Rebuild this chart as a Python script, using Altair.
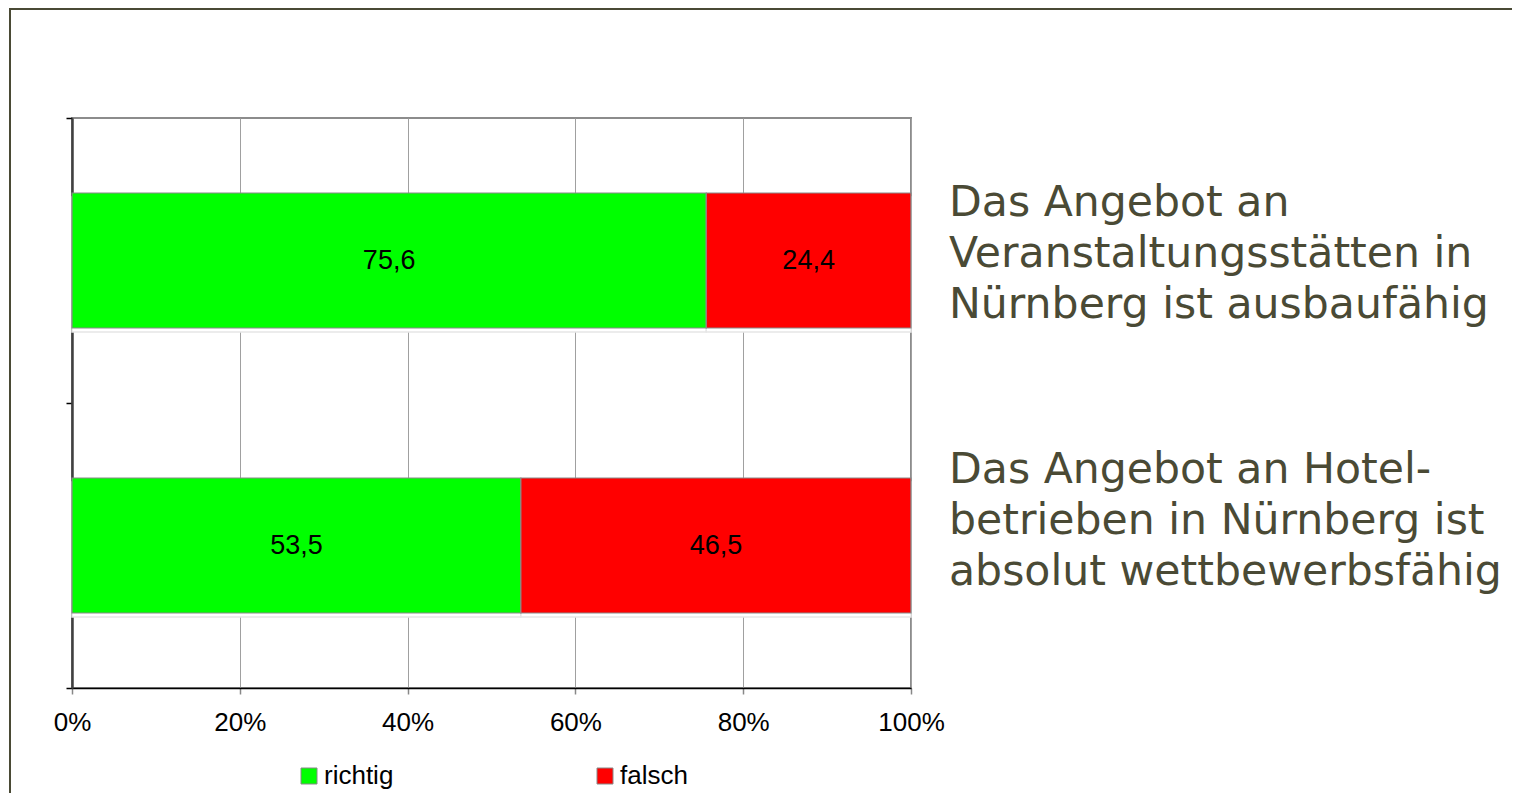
import altair as alt
import pandas as pd

# ---- data ----
stmt_keys = ["Veranstaltungsstätten", "Hotelbetriebe"]
stmt_labels = [
    "Das Angebot an\nVeranstaltungsstätten in\nNürnberg ist ausbaufähig",
    "Das Angebot an Hotel-\nbetrieben in Nürnberg ist\nabsolut wettbewerbsfähig",
]
answers = ["richtig", "falsch"]
richtig = [75.6, 53.5]
falsch = [24.4, 46.5]
x_ticks = [0, 20, 40, 60, 80, 100]

rows = []
for i, k in enumerate(stmt_keys):
    rows.append({"stmt": k, "answer": "richtig", "value": richtig[i], "order": 0})
    rows.append({"stmt": k, "answer": "falsch", "value": falsch[i], "order": 1})
df = pd.DataFrame(rows)
df_lab = pd.DataFrame({"stmt": stmt_keys, "label": stmt_labels})

TXT = "#4a4a35"

base = alt.Chart(df).transform_stack(
    stack="value", groupby=["stmt"], as_=["x0", "x1"],
    sort=[alt.SortField("order", order="ascending")],
)

yenc = alt.Y(
    "stmt:N", sort=stmt_keys,
    scale=alt.Scale(paddingInner=0, paddingOuter=0),
    axis=alt.Axis(title=None, labels=False, grid=False, tickBand="extent",
                  domainColor="#404040", domainWidth=2.5, tickColor="black",
                  tickSize=6, tickWidth=1.5),
)
xenc = alt.X(
    "x0:Q", scale=alt.Scale(domain=[0, 100], nice=False, zero=True),
    axis=alt.Axis(title=None, values=x_ticks, labelExpr="datum.value + '%'",
                  grid=True, gridColor="#a0a0a0", gridWidth=1,
                  domainColor="black", domainWidth=1.5, tickColor="#888888",
                  tickSize=6, tickWidth=1.5, labelFont="Liberation Sans",
                  labelFontSize=26, labelColor="black", labelPadding=15,
                  labelOverlap=False, labelFlush=False),
)

BAND = {"band": 0.4737}

shadow = base.mark_bar(fill="white", stroke="#e6e6e6", strokeWidth=1.5, yOffset=4,
                       height=BAND).encode(
    x=xenc, x2="x1:Q", y=yenc,
)

bars = base.mark_bar(stroke="#8a8a8a", strokeWidth=1.2, height=BAND).encode(
    x=xenc, x2="x1:Q", y=yenc,
    color=alt.Color(
        "answer:N",
        scale=alt.Scale(domain=answers, range=["#00ff00", "#ff0000"]),
        sort=answers,
        legend=alt.Legend(
            orient="none", legendX=224, legendY=645, direction="horizontal",
            title=None, symbolType="square", symbolSize=256,
            symbolStrokeColor="#888888", symbolStrokeWidth=1,
            labelFont="Liberation Sans", labelFontSize=26, labelColor="black",
            labelOffset=2, columnPadding=198, padding=0, symbolOpacity=1,
        ),
    ),
)

values_txt = base.transform_calculate(
    mid="(datum.x0 + datum.x1) / 2",
    lab="replace(format(datum.value, '.1f'), '.', ',')",
).mark_text(font="Liberation Sans", fontSize=27, color="black", baseline="middle").encode(
    x="mid:Q", y=alt.Y("stmt:N", sort=stmt_keys), text="lab:N",
)

def stmt_text(key, ypix):
    return alt.Chart(df_lab).transform_filter(
        alt.datum.stmt == key
    ).mark_text(
        align="left", baseline="alphabetic", lineBreak="\n", lineHeight=51,
        font="DejaVu Sans", fontSize=42.6, color=TXT,
    ).encode(x=alt.value(877), y=alt.value(ypix), text="label:N")

t1 = stmt_text(stmt_keys[0], 216 - 118)
t2 = stmt_text(stmt_keys[1], 483 - 118)

frame_df = pd.DataFrame({"f": [0]})
frame_left = alt.Chart(frame_df).mark_rule(color=TXT, strokeWidth=2).encode(
    x=alt.value(-62), y=alt.value(-110), y2=alt.value(690)
)
frame_top = alt.Chart(frame_df).mark_rule(color=TXT, strokeWidth=2).encode(
    x=alt.value(-63), x2=alt.value(1460), y=alt.value(-109)
)

chart = alt.layer(shadow, bars, values_txt, t1, t2, frame_left, frame_top).properties(
    width=839, height=570,
    padding={"left": 64, "top": 110, "right": 601, "bottom": 105},
    autosize="none",
    background="white",
).configure_view(stroke="#8c8c8c", strokeWidth=2)

chart.save("out.html", embed_options={"renderer": "svg", "actions": False})
